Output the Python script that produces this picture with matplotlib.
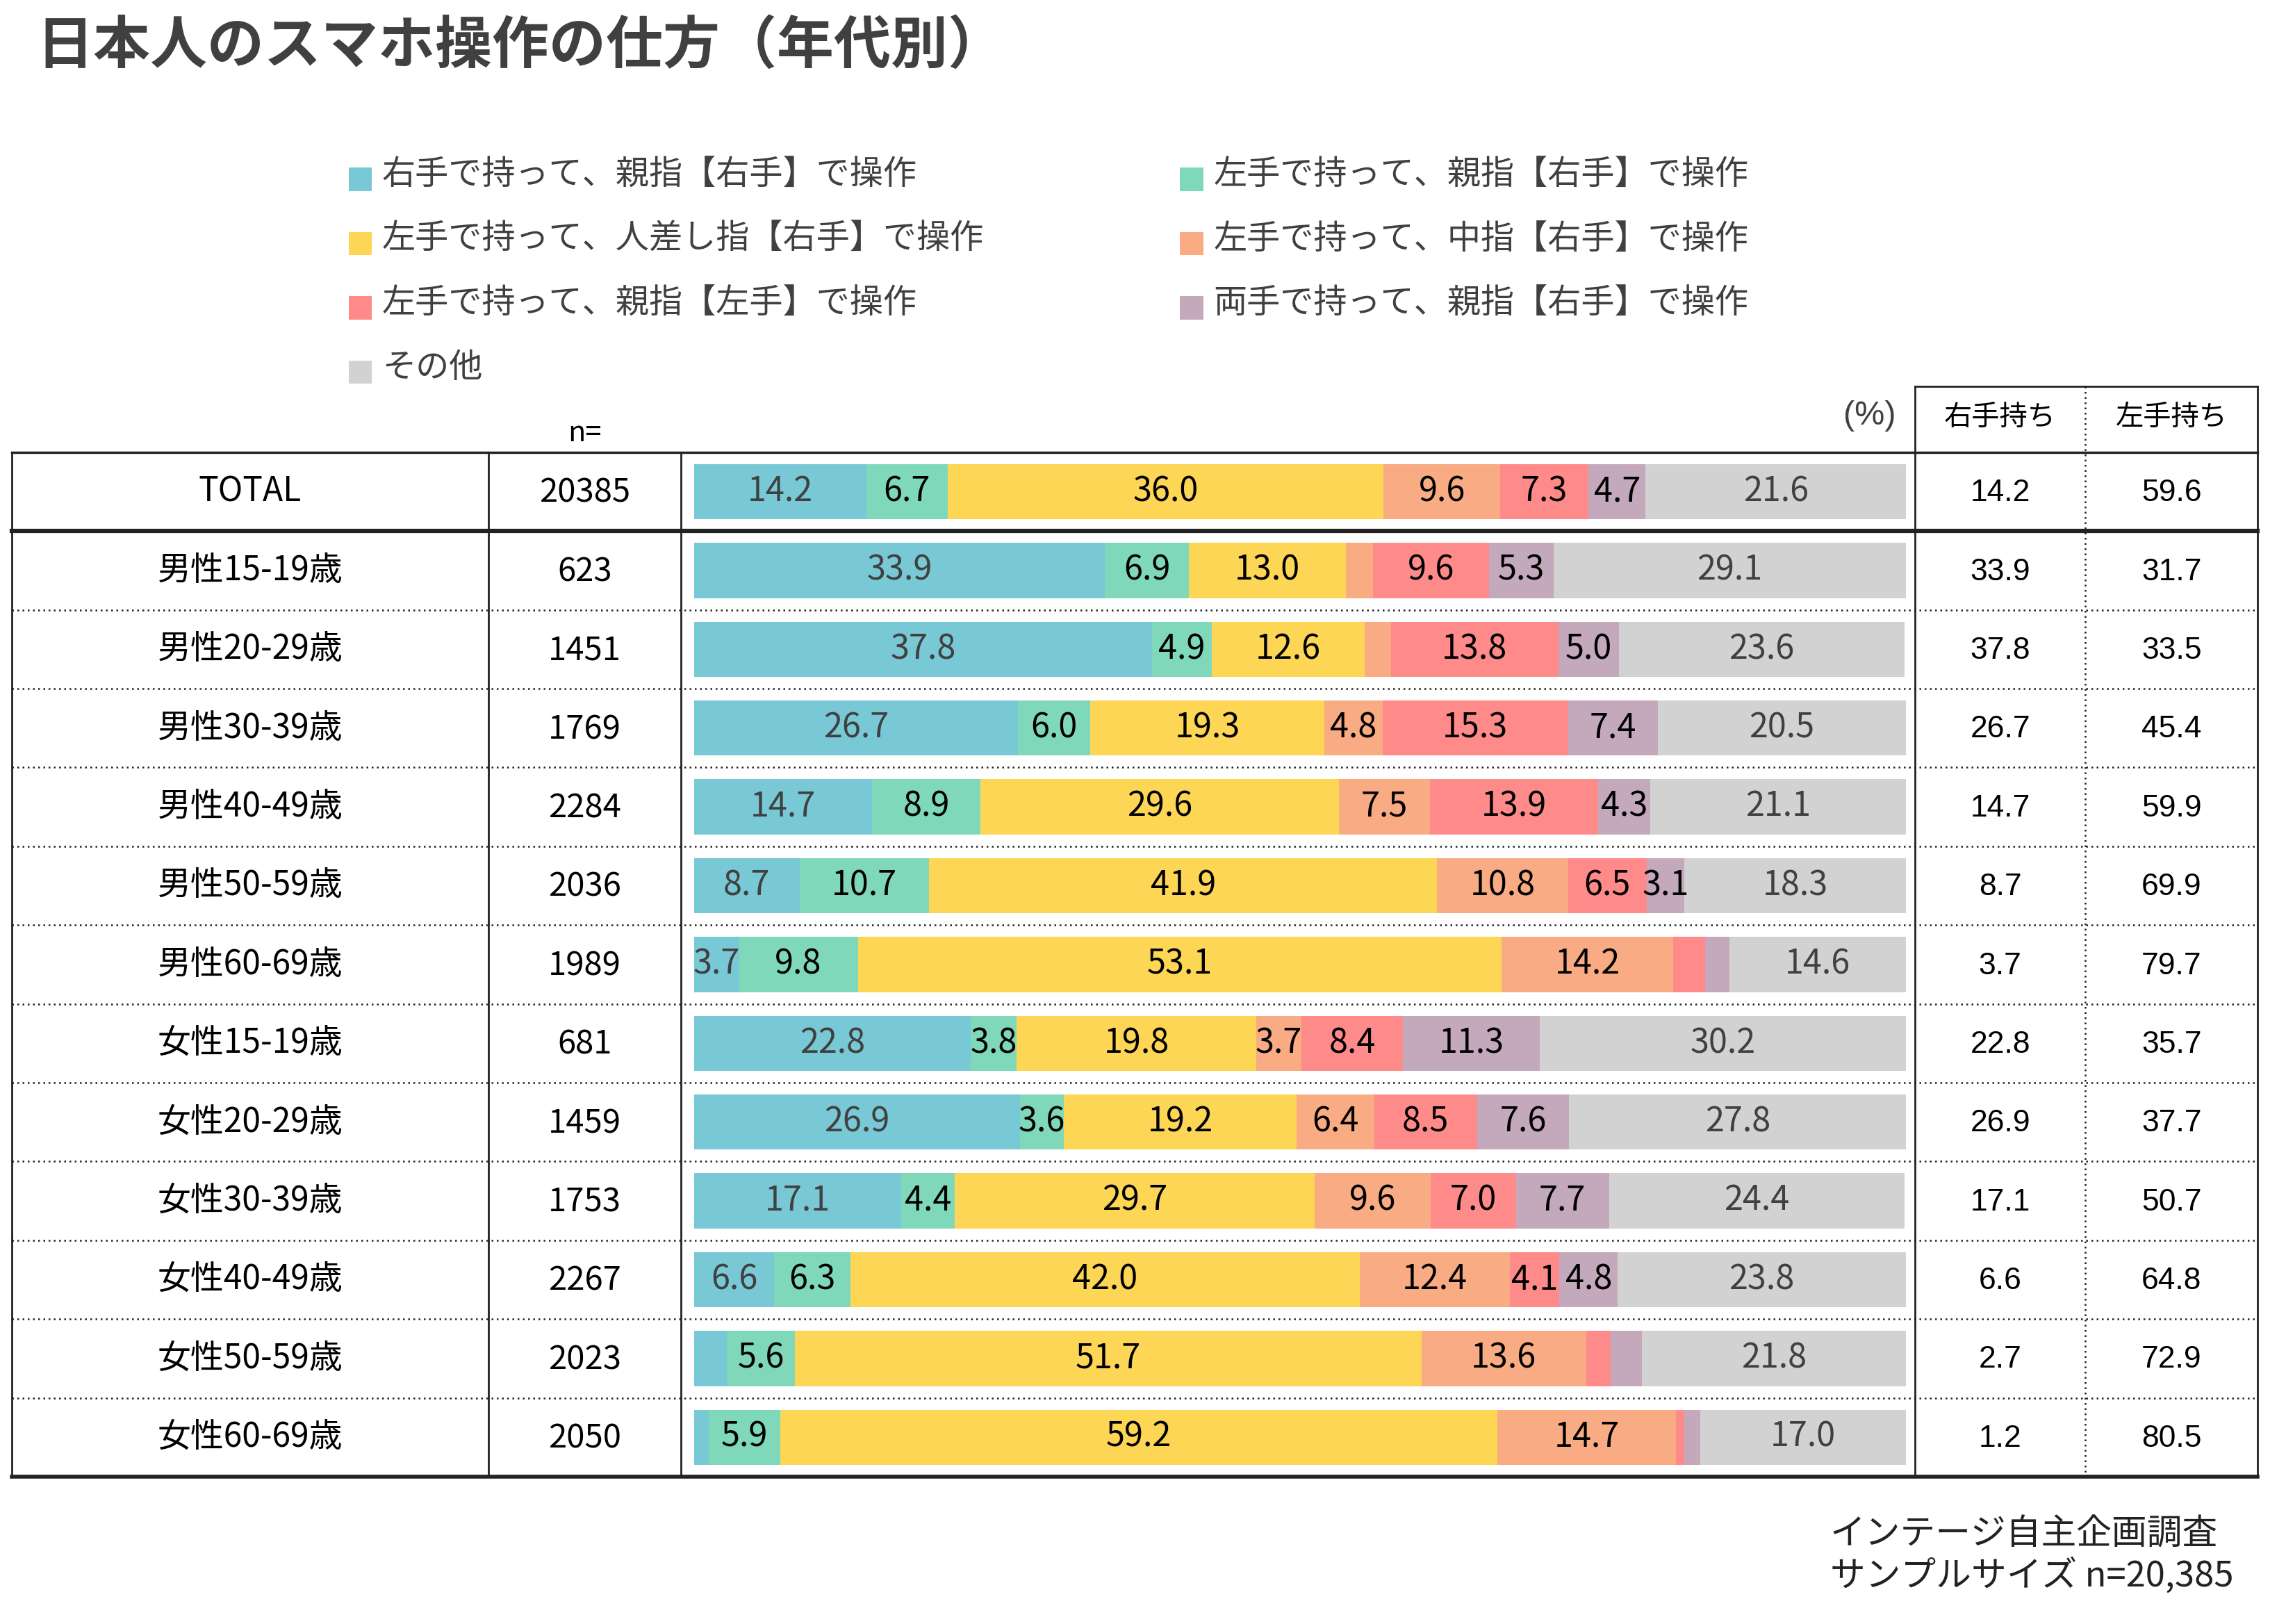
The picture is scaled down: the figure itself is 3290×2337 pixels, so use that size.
import matplotlib.pyplot as plt
from matplotlib.patches import Rectangle

# ---- data ----
categories = ['TOTAL', '男性15-19歳', '男性20-29歳', '男性30-39歳', '男性40-49歳',
              '男性50-59歳', '男性60-69歳', '女性15-19歳', '女性20-29歳',
              '女性30-39歳', '女性40-49歳', '女性50-59歳', '女性60-69歳']
n_values = [20385, 623, 1451, 1769, 2284, 2036, 1989, 681, 1459, 1753, 2267, 2023, 2050]

series_names = ['右手で持って、親指【右手】で操作', '左手で持って、親指【右手】で操作',
                '左手で持って、人差し指【右手】で操作', '左手で持って、中指【右手】で操作',
                '左手で持って、親指【左手】で操作', '両手で持って、親指【右手】で操作',
                'その他']
right_thumb = [14.2, 33.9, 37.8, 26.7, 14.7, 8.7, 3.7, 22.8, 26.9, 17.1, 6.6, 2.7, 1.2]
left_thumb_r = [6.7, 6.9, 4.9, 6.0, 8.9, 10.7, 9.8, 3.8, 3.6, 4.4, 6.3, 5.6, 5.9]
left_index = [36.0, 13.0, 12.6, 19.3, 29.6, 41.9, 53.1, 19.8, 19.2, 29.7, 42.0, 51.7, 59.2]
left_middle = [9.6, 2.2, 2.2, 4.8, 7.5, 10.8, 14.2, 3.7, 6.4, 9.6, 12.4, 13.6, 14.7]
left_thumb_l = [7.3, 9.6, 13.8, 15.3, 13.9, 6.5, 2.6, 8.4, 8.5, 7.0, 4.1, 2.0, 0.7]
both_hands = [4.7, 5.3, 5.0, 7.4, 4.3, 3.1, 2.0, 11.3, 7.6, 7.7, 4.8, 2.6, 1.3]
other = [21.6, 29.1, 23.6, 20.5, 21.1, 18.3, 14.6, 30.2, 27.8, 24.4, 23.8, 21.8, 17.0]

right_hold = [14.2, 33.9, 37.8, 26.7, 14.7, 8.7, 3.7, 22.8, 26.9, 17.1, 6.6, 2.7, 1.2]
left_hold = [59.6, 31.7, 33.5, 45.4, 59.9, 69.9, 79.7, 35.7, 37.7, 50.7, 64.8, 72.9, 80.5]

series = [right_thumb, left_thumb_r, left_index, left_middle, left_thumb_l, both_hands, other]
colors = ['#78C8D6', '#80D8BA', '#FDD655', '#F9AC84', '#FF8A8A', '#C4A9BC', '#D2D2D2']
label_colors = ['#404040', 'black', 'black', 'black', 'black', 'black', '#404040']

JP = ['Noto Sans CJK JP', 'DejaVu Sans']
NARROW = ['Liberation Sans Narrow', 'Noto Sans CJK JP', 'DejaVu Sans']
ARIAL = ['Liberation Sans', 'Noto Sans CJK JP', 'DejaVu Sans']

W, H = 1568, 1113  # layout units (reference preview pixels)
fig = plt.figure(figsize=(32.91, 23.37), dpi=100)

# overlay axes for table lines and texts
ov = fig.add_axes([0, 0, 1, 1])
ov.set_xlim(0, W)
ov.set_ylim(H, 0)
ov.axis('off')

# title
ov.text(25, 32, '日本人のスマホ操作の仕方（年代別）', family=JP, fontsize=59,
        fontweight='bold', color='#404040', va='center', ha='left')

# legend (two columns, row-major)
for i, name in enumerate(series_names):
    r, c = i // 2, i % 2
    x0 = 239 + c * 570
    y0 = 123 + r * 44
    ov.add_patch(Rectangle((x0, y0 - 8), 16, 16, color=colors[i], lw=0))
    ov.text(x0 + 23, y0 - 3, name, family=JP, fontsize=34.7, color='#404040',
            va='center', ha='left')

# table geometry
top, bottom = 310, 1012
row_h = (bottom - top) / len(categories)
x_left, x_c1, x_c2, x_c3, x_c4, x_right = 8, 335, 467, 1313, 1430, 1548
head_top = 265

lc = '#222222'
ov.plot([x_left, x_right], [top, top], color=lc, lw=2.5)
ov.plot([x_left, x_right], [bottom, bottom], color=lc, lw=4)
ov.plot([x_left, x_right], [top + row_h, top + row_h], color=lc, lw=4.5)
for k in range(2, len(categories)):
    y = top + k * row_h
    ov.plot([x_left, x_right], [y, y], color=lc, lw=1.8, ls=(0, (1, 2)))
for x in (x_left, x_c1, x_c2):
    ov.plot([x, x], [top, bottom], color=lc, lw=2)
for x in (x_c3, x_right):
    ov.plot([x, x], [head_top, bottom], color=lc, lw=2)
ov.plot([x_c3, x_right], [head_top, head_top], color=lc, lw=2)
ov.plot([x_c4, x_c4], [head_top, bottom], color=lc, lw=1.8, ls=(0, (1, 2)))

# headers
ov.text((x_c1 + x_c2) / 2, 297, 'n=', family=NARROW, fontsize=30, color='black',
        ha='center', va='center')
ov.text(1300, 285, '(%)', family=ARIAL, fontsize=35, color='#404040',
        ha='right', va='center')
ov.text((x_c3 + x_c4) / 2, 286, '右手持ち', family=JP, fontsize=29, color='black',
        ha='center', va='center')
ov.text((x_c4 + x_right) / 2, 286, '左手持ち', family=JP, fontsize=29, color='black',
        ha='center', va='center')

# row texts
for k, cat in enumerate(categories):
    yc = top + (k + 0.5) * row_h
    ov.text((x_left + x_c1) / 2, yc, cat, family=NARROW, fontsize=34.5, color='black',
            ha='center', va='center')
    ov.text((x_c1 + x_c2) / 2, yc + 1, str(n_values[k]), family=NARROW, fontsize=34,
            color='black', ha='center', va='center')
    ov.text((x_c3 + x_c4) / 2, yc + 1, f'{right_hold[k]:.1f}', family=ARIAL, fontsize=32,
            color='black', ha='center', va='center')
    ov.text((x_c4 + x_right) / 2, yc + 1, f'{left_hold[k]:.1f}', family=ARIAL, fontsize=32,
            color='black', ha='center', va='center')

# footer
ov.text(1255, 1052, 'インテージ自主企画調査', family=JP, fontsize=36.5, color='#222222',
        ha='left', va='center')
ov.text(1255, 1080, 'サンプルサイズ n=20,385', family=JP, fontsize=36.5, color='#222222',
        ha='left', va='center')

# stacked bars
bl, br = 476, 1307
ax = fig.add_axes([bl / W, 1 - bottom / H, (br - bl) / W, (bottom - top) / H])
ax.set_xlim(0, 100)
ax.set_ylim(len(categories) - 0.5, -0.5)
ax.axis('off')
ypos = list(range(len(categories)))
left = [0.0] * len(categories)
for vals, col, tcol in zip(series, colors, label_colors):
    bars = ax.barh(ypos, vals, left=left, height=0.7, color=col, lw=0)
    labels = [f'{v:.1f}' if v >= 3 else '' for v in vals]
    ax.bar_label(bars, labels=labels, label_type='center', family=NARROW,
                 fontsize=35, color=tcol)
    left = [a + b for a, b in zip(left, vals)]

fig.savefig('out.png', dpi=100)
